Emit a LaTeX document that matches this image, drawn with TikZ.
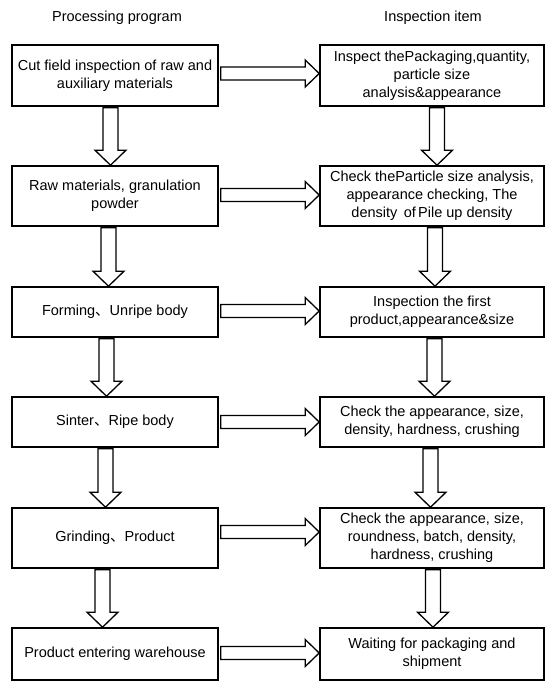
\documentclass[tikz,border=0pt]{standalone}
\usepackage{fontspec}
\setmainfont{Liberation Sans}
\newfontfamily\cjk{Noto Sans CJK SC}
\usetikzlibrary{calc}
\newcommand\dun{{\cjk 、}}
\tikzset{
  txt/.style={font=\fontsize{14.5}{18}\selectfont, align=center, inner sep=0pt},
  lbox/.style={txt, draw, line width=1.6pt, minimum width=206pt},
  rbox/.style={txt, draw, line width=1.6pt, minimum width=224pt},
  blk/.style={draw, fill=white, line width=1.3pt, line join=miter},
}
\newcommand\vblk[3]{%
  \draw[blk] let \p1=(#1.south), \p2=(#2.north), \n1={\x1+#3pt} in
   ({\n1-7.5pt},{\y1-1pt}) -- ({\n1-7.5pt},{\y2+15pt}) -- ({\n1-15.5pt},{\y2+15pt})
   -- ({\n1},{\y2}) -- ({\n1+15.5pt},{\y2+15pt}) -- ({\n1+7.5pt},{\y2+15pt})
   -- ({\n1+7.5pt},{\y1-1pt}) -- cycle;}
\newcommand\hblk[3]{%
  \draw[blk] let \p1=(#1.east), \p2=(#2.west), \n1={\y1-#3pt} in
   ({\x1+2pt},{\n1+6.5pt}) -- ({\x2-14pt},{\n1+6.5pt}) -- ({\x2-14pt},{\n1+13.5pt})
   -- ({\x2},{\n1}) -- ({\x2-14pt},{\n1-13.5pt}) -- ({\x2-14pt},{\n1-6.5pt})
   -- ({\x1+2pt},{\n1-6.5pt}) -- cycle;}
\begin{document}
\begin{tikzpicture}[x=1pt,y=-1pt]
\useasboundingbox (0,0) rectangle (552,691);
\node[txt] (h1) at (117,18) {Processing program};
\node[txt] (h2) at (433,18) {Inspection item};

\node[lbox, minimum height=61pt] (L1) at (115,75.5) {Cut field inspection of raw and\\auxiliary materials};
\node[lbox, minimum height=60pt] (L2) at (115,196) {Raw materials, granulation\\powder};
\node[lbox, minimum height=50pt] (L3) at (115,312) {Forming\dun Unripe body};
\node[lbox, minimum height=50pt] (L4) at (115,422) {Sinter\dun Ripe body};
\node[lbox, minimum height=60pt] (L5) at (115,538) {Grinding\dun Product};
\node[lbox, minimum height=52pt] (L6) at (115,654) {Product entering warehouse};

\node[rbox, minimum height=61pt] (R1) at (432,75.5) {Inspect thePackaging,quantity,\\particle size\\analysis\&appearance};
\node[rbox, minimum height=60pt] (R2) at (432,196) {Check theParticle size analysis,\\appearance checking, The\\density\hspace{0.45em}of\hspace{0.15em}Pile up density};
\node[rbox, minimum height=50pt] (R3) at (432,312) {Inspection the first\\product,appearance\&size};
\node[rbox, minimum height=50pt] (R4) at (432,422) {Check the appearance, size,\\density, hardness, crushing};
\node[rbox, minimum height=60pt] (R5) at (432,538) {Check the appearance, size,\\roundness, batch, density,\\hardness, crushing};
\node[rbox, minimum height=52pt] (R6) at (432,654) {Waiting for packaging and\\shipment};

\vblk{L1}{L2}{-4.5}
\vblk{L2}{L3}{-6.5}
\vblk{L3}{L4}{-8.5}
\vblk{L4}{L5}{-9.5}
\vblk{L5}{L6}{-12.5}
\vblk{R1}{R2}{5}
\vblk{R2}{R3}{3}
\vblk{R3}{R4}{2.5}
\vblk{R4}{R5}{-1.5}
\vblk{R5}{R6}{1}

\hblk{L1}{R1}{-2}
\hblk{L2}{R2}{-1}
\hblk{L3}{R3}{-1}
\hblk{L4}{R4}{0}
\hblk{L5}{R5}{-6}
\hblk{L6}{R6}{-1}
\end{tikzpicture}
\end{document}
